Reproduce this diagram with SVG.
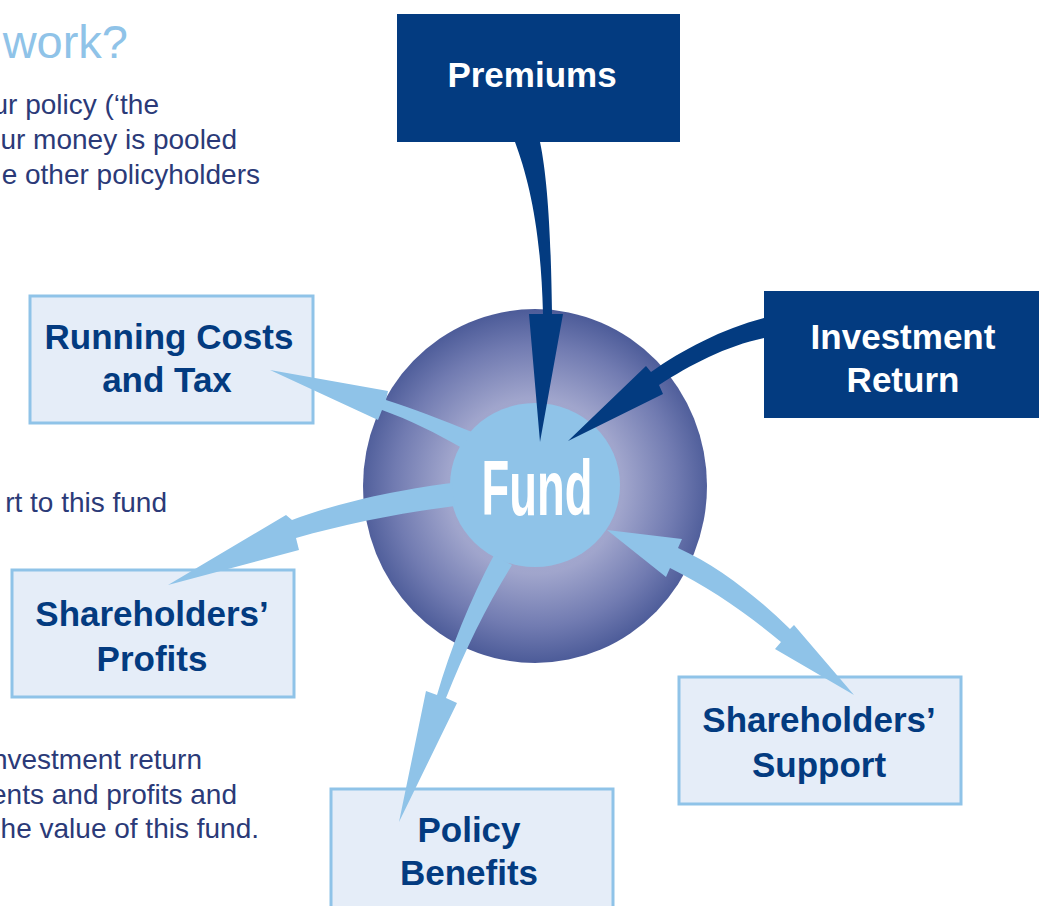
<svg xmlns="http://www.w3.org/2000/svg" width="1039" height="906" viewBox="0 0 1039 906">
<style>
.body{font-family:"Liberation Sans",Arial,sans-serif;font-size:28px;fill:#2b3a78;text-anchor:end}
.head{font-family:"Liberation Sans",Arial,sans-serif;font-size:47px;fill:#8fc3e8;text-anchor:end}
.dbox{fill:#033b80}
.lbox{fill:#e5edf8;stroke:#8fc3e8;stroke-width:3}
.dlab{font-family:"Liberation Sans",Arial,sans-serif;font-weight:bold;font-size:35px;fill:#ffffff;text-anchor:middle}
.llab{font-family:"Liberation Sans",Arial,sans-serif;font-weight:bold;font-size:35px;fill:#033b80;text-anchor:middle}
.la{fill:#8fc3e8}
.da{fill:#033b80}
</style>
<defs>
<radialGradient id="sph" cx="535" cy="486" r="176" gradientUnits="userSpaceOnUse">
<stop offset="0" stop-color="#b3b6d7"/>
<stop offset="0.5" stop-color="#a0a5cc"/>
<stop offset="0.8" stop-color="#717bb1"/>
<stop offset="1" stop-color="#4d5c99"/>
</radialGradient>
</defs>
<rect width="1039" height="906" fill="#ffffff"/>

<g id="text">
<text class="head" x="128" y="58">work?</text>
<text class="body" x="159" y="114">ur policy (‘the</text>
<text class="body" x="237" y="149">ur money is pooled</text>
<text class="body" x="260" y="184">e other policyholders</text>
<text class="body" x="167" y="512">rt to this fund</text>
<text class="body" x="202" y="769">nvestment return</text>
<text class="body" x="237" y="804">ents and profits and</text>
<text class="body" x="259" y="838">he value of this fund.</text>
</g>

<g id="fund">
<ellipse cx="535" cy="486" rx="172" ry="177" fill="url(#sph)"/>
<ellipse cx="535" cy="485" rx="85" ry="82" fill="#8fc3e8"/>
</g>

<g id="premiums">
<rect class="dbox" x="397" y="14" width="283" height="128"/>
<text class="dlab" x="532" y="87">Premiums</text>
</g>

<g id="investment-return">
<rect class="dbox" x="764" y="291" width="280" height="127"/>
<text class="dlab" x="903" y="349">Investment</text>
<text class="dlab" x="903" y="392">Return</text>
</g>

<g id="running-costs">
<rect class="lbox" x="30" y="296" width="283" height="127"/>
<text class="llab" x="169" y="349">Running Costs</text>
<text class="llab" x="167" y="392">and Tax</text>
</g>

<g id="shareholders-profits">
<rect class="lbox" x="12" y="570" width="282" height="127"/>
<text class="llab" x="152" y="626">Shareholders’</text>
<text class="llab" x="152" y="671">Profits</text>
</g>

<g id="policy-benefits">
<rect class="lbox" x="331" y="789" width="282" height="130"/>
<text class="llab" x="469" y="842">Policy</text>
<text class="llab" x="469" y="885">Benefits</text>
</g>

<g id="shareholders-support">
<rect class="lbox" x="679" y="677" width="282" height="127"/>
<text class="llab" x="819" y="732">Shareholders’</text>
<text class="llab" x="819" y="777">Support</text>
</g>

<g id="connectors">
<path class="la" d="M472,432 C442,420 412,408 386,400 L388,391 L270,370 L378,420 L382,410 C410,420 436,433 462,448 Z"/>
<path class="la" d="M452,483 C410,488 345,500 292,520 L286,515 L168,585 L299,550 L296,538 C345,524 400,513 455,506 Z"/>
<path class="la" d="M494,555 C470,600 450,650 437,695 L426,691 L399,822 L457,703 L446,698 C465,650 487,605 512,565 Z"/>
<path class="la" d="M607,530 L682,539 L678,548 C718,566 755,595 790,629 L794,625 L854,695 L775,649 L781,642 C745,612 710,588 670,568 L666,577 Z"/>
<path class="da" d="M515,142 C529,180 541,230 543,314 L529,314 L540,442 L563,314 L552,314 C551,240 548,180 540,142 Z"/>
<path class="da" d="M764,318 C722,329 682,350 651,372 L646,366 L568,441 L663,394 L659,385 C690,365 726,346 764,338 Z"/>
</g>

<g id="fund-label">
<text x="537" y="515" font-family="Liberation Sans, Arial, sans-serif" font-weight="bold" font-size="78" fill="#ffffff" text-anchor="middle" textLength="111" lengthAdjust="spacingAndGlyphs">Fund</text>
</g>
</svg>
